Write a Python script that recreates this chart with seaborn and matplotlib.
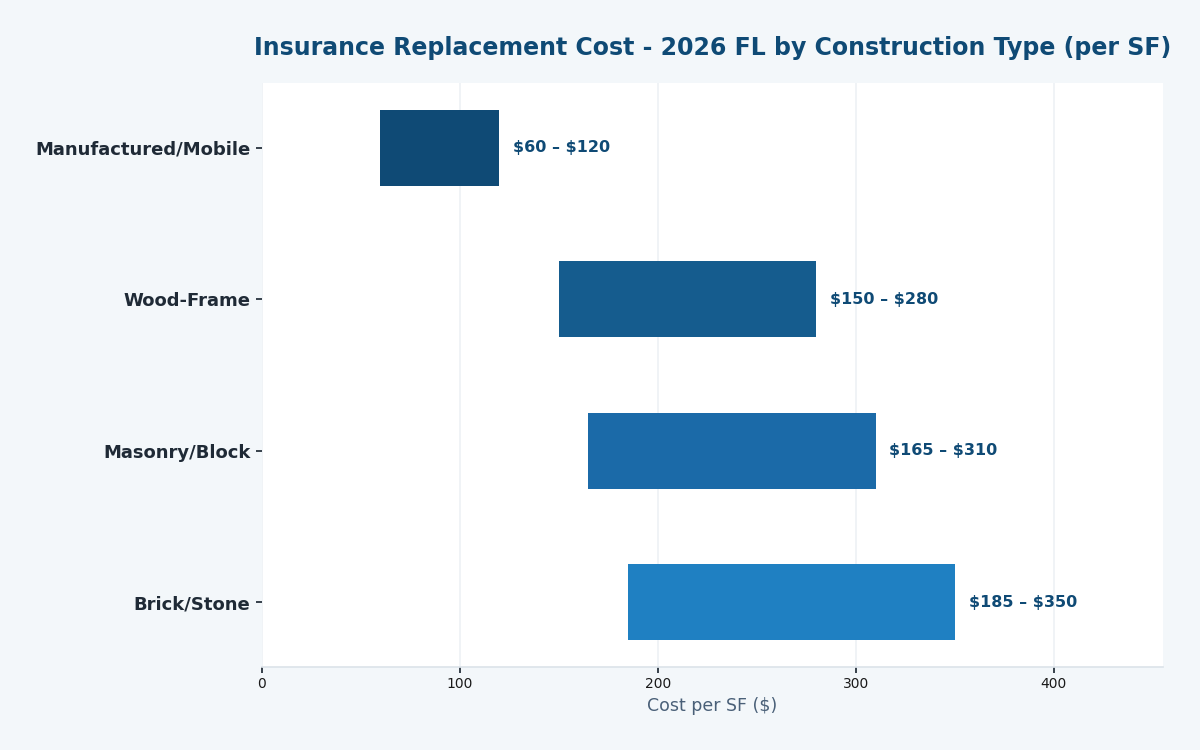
import matplotlib
matplotlib.use("Agg")
import matplotlib.pyplot as plt
import seaborn as sns

# data
categories = ["Manufactured/Mobile", "Wood-Frame", "Masonry/Block", "Brick/Stone"]
low_cost = [60, 150, 165, 185]
high_cost = [120, 280, 310, 350]
bar_colors = ["#0f4a75", "#155c8e", "#1b6aa8", "#1f80c2"]

sns.set_theme(style="whitegrid")
plt.rcParams['font.family'] = ['DejaVu Sans']

fig, ax = plt.subplots(figsize=(12, 7.5), dpi=100)
fig.patch.set_facecolor("#f3f7fa")
ax.set_facecolor("white")
fig.subplots_adjust(left=0.218, right=0.969, top=0.889, bottom=0.111)

widths = [h - l for l, h in zip(low_cost, high_cost)]
ax.barh(categories, widths, left=low_cost, height=0.5, color=bar_colors,
        linewidth=0, zorder=3)

# range labels
for i, (lo, hi) in enumerate(zip(low_cost, high_cost)):
    ax.text(hi + 7, i, f"\\${lo} \u2013 \\${hi}", va="center", ha="left",
            fontsize=11.5, fontweight="bold", color="#0f4a75", zorder=4)

ax.invert_yaxis()
ax.set_xlim(0, max(high_cost) * 1.3)

ax.set_title("Insurance Replacement Cost - 2026 FL by Construction Type (per SF)",
             fontsize=17, fontweight="bold", color="#0f4a75", pad=20)
ax.set_xlabel("Cost per SF ($)", fontsize=12.5, color="#4a6078")
ax.set_ylabel("")

ax.grid(axis="x", color="#edf1f5", linewidth=1.2, zorder=0)
ax.grid(axis="y", visible=False)
for s in ["top", "right", "left"]:
    ax.spines[s].set_visible(False)
ax.spines["bottom"].set_color("#dde4ea")

ax.tick_params(axis="y", length=4, color="#1f2a36", labelsize=13, pad=4, left=True)
ax.tick_params(axis="x", length=4, color="#1f2a36", labelsize=10, bottom=True)
for lbl in ax.get_yticklabels():
    lbl.set_fontweight("bold")
    lbl.set_color("#1f2a36")
for lbl in ax.get_xticklabels():
    lbl.set_color("#1a1a1a")

fig.savefig("out.png", dpi=100, facecolor=fig.get_facecolor())
